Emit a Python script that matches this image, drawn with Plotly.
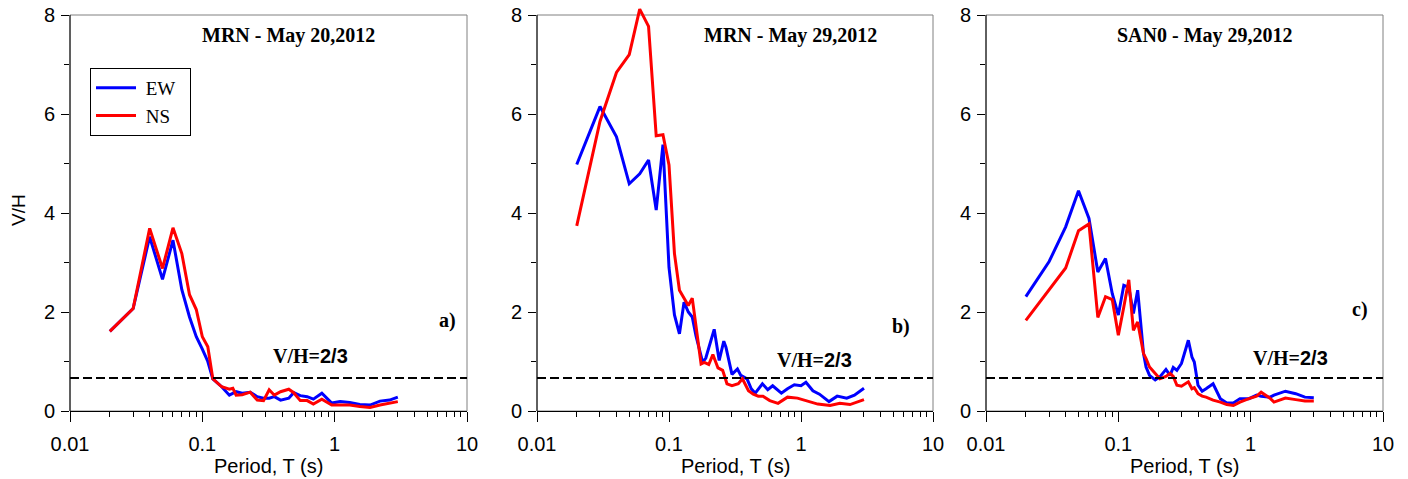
import plotly.graph_objects as go

# ---------------- data ----------------
VH_LIMIT = 2 / 3

T_a_ew = [0.02, 0.03, 0.04, 0.05, 0.06, 0.07, 0.08, 0.09, 0.10, 0.11, 0.12, 0.14, 0.16, 0.18, 0.20, 0.23,
          0.26, 0.29, 0.32, 0.35, 0.39, 0.45, 0.49, 0.55, 0.62, 0.69, 0.80, 0.95, 1.10, 1.30, 1.55, 1.85,
          2.20, 2.60, 3.00]
VH_a_ew = [1.61, 2.07, 3.52, 2.66, 3.45, 2.45, 1.90, 1.50, 1.25, 1.00, 0.65, 0.49, 0.32, 0.39, 0.36, 0.38,
           0.29, 0.26, 0.26, 0.29, 0.22, 0.26, 0.37, 0.31, 0.29, 0.24, 0.36, 0.16, 0.19, 0.17, 0.13, 0.12,
           0.20, 0.22, 0.28]
T_a_ns = [0.02, 0.03, 0.04, 0.05, 0.06, 0.07, 0.08, 0.09, 0.10, 0.11, 0.12, 0.14, 0.16, 0.17, 0.18, 0.20,
          0.23, 0.26, 0.29, 0.32, 0.35, 0.39, 0.45, 0.49, 0.55, 0.62, 0.69, 0.80, 0.95, 1.10, 1.30, 1.55,
          1.85, 2.20, 2.60, 3.00]
VH_a_ns = [1.61, 2.07, 3.69, 2.88, 3.70, 3.18, 2.35, 2.05, 1.50, 1.30, 0.65, 0.49, 0.44, 0.46, 0.32, 0.33,
           0.38, 0.22, 0.21, 0.43, 0.32, 0.39, 0.44, 0.37, 0.21, 0.21, 0.14, 0.24, 0.12, 0.12, 0.12, 0.09,
           0.07, 0.12, 0.155, 0.19]

T_b_ew = [0.02, 0.03, 0.04, 0.05, 0.06, 0.07, 0.08, 0.09, 0.10, 0.11, 0.12, 0.13, 0.14, 0.15, 0.16, 0.17,
          0.18, 0.19, 0.22, 0.24, 0.26, 0.27, 0.30, 0.33, 0.35, 0.39, 0.42, 0.45, 0.51, 0.56, 0.61, 0.71,
          0.79, 0.89, 1.00, 1.09, 1.23, 1.38, 1.63, 1.88, 2.22, 2.54, 3.00]
VH_b_ew = [4.98, 6.15, 5.54, 4.59, 4.79, 5.07, 4.06, 5.38, 2.90, 1.94, 1.56, 2.20, 2.00, 1.90, 1.52, 1.22,
           0.98, 1.07, 1.65, 1.02, 1.41, 1.29, 0.74, 0.85, 0.72, 0.65, 0.45, 0.36, 0.55, 0.43, 0.51, 0.36,
           0.45, 0.53, 0.51, 0.58, 0.41, 0.34, 0.19, 0.30, 0.26, 0.32, 0.46]
T_b_ns = [0.02, 0.03, 0.04, 0.05, 0.06, 0.07, 0.08, 0.09, 0.10, 0.11, 0.12, 0.14, 0.15, 0.16, 0.175, 0.185,
          0.20, 0.215, 0.235, 0.255, 0.275, 0.30, 0.335, 0.36, 0.40, 0.435, 0.475, 0.515, 0.58, 0.67, 0.79,
          0.94, 1.12, 1.34, 1.66, 1.97, 2.35, 3.00]
VH_b_ns = [3.74, 5.85, 6.84, 7.20, 8.12, 7.77, 5.56, 5.58, 4.97, 3.18, 2.44, 2.13, 2.28, 1.69, 0.95, 0.98,
           0.94, 1.14, 0.87, 0.82, 0.55, 0.51, 0.55, 0.65, 0.41, 0.34, 0.30, 0.30, 0.21, 0.155, 0.28,
           0.26, 0.20, 0.14, 0.11, 0.155, 0.13, 0.23]

T_c = [0.02, 0.03, 0.04, 0.05, 0.06, 0.07, 0.08, 0.09, 0.10, 0.11, 0.12, 0.13, 0.14, 0.155, 0.162, 0.172,
       0.19, 0.206, 0.229, 0.246, 0.26, 0.277, 0.30, 0.32, 0.338, 0.36, 0.375, 0.40, 0.43, 0.46, 0.52,
       0.59, 0.66, 0.74, 0.83, 0.97, 1.11, 1.20, 1.40, 1.50, 1.83, 2.19, 2.57, 3.00]
VH_c_ew = [2.31, 3.02, 3.72, 4.45, 3.89, 2.81, 3.08, 2.37, 1.94, 2.54, 2.50, 1.97, 2.44, 1.16, 0.89, 0.72,
           0.63, 0.69, 0.84, 0.72, 0.88, 0.82, 0.96, 1.23, 1.43, 1.09, 0.99, 0.52, 0.40, 0.45, 0.55,
           0.25, 0.16, 0.16, 0.25, 0.25, 0.32, 0.30, 0.28, 0.32, 0.40, 0.35, 0.28, 0.27]
VH_c_ns = [1.83, 2.44, 2.89, 3.64, 3.78, 1.89, 2.31, 2.25, 1.53, 2.10, 2.65, 1.63, 1.80, 1.16, 1.06, 0.89,
           0.76, 0.65, 0.70, 0.76, 0.70, 0.52, 0.50, 0.55, 0.59, 0.45, 0.47, 0.35, 0.30, 0.28, 0.22,
           0.18, 0.13, 0.11, 0.18, 0.25, 0.30, 0.38, 0.26, 0.18, 0.26, 0.23, 0.20, 0.20]

series_names = ["EW", "NS"]
panel_titles = ["MRN - May 20,2012", "MRN - May 29,2012", "SAN0 - May 29,2012"]
panel_tags = ["a)", "b)", "c)"]
x_tick_vals = [0.01, 0.1, 1, 10]
x_tick_text = ["0.01", "0.1", "1", "10"]
y_tick_vals = [0, 2, 4, 6, 8]

# ---------------- layout geometry ----------------
W, H = 1408, 479
x_domains = [[70 / W, 467 / W], [537 / W, 933 / W], [986 / W, 1383 / W]]
MT, MB = 3, 68
plot_h = H - MT - MB
y_top = plot_h / (396 / 8)  # keeps 8 at the frame top while leaving headroom

BLUE = "#0000FF"
RED = "#FF0000"
SERIF = "Liberation Serif, Times New Roman, serif"
SANS = "Liberation Sans, Arial, sans-serif"
NB = "\u00a0"

series = [
    (T_a_ew, VH_a_ew, T_a_ns, VH_a_ns),
    (T_b_ew, VH_b_ew, T_b_ns, VH_b_ns),
    (T_c, VH_c_ew, T_c, VH_c_ns),
]

fig = go.Figure()
minor_x = [m * 10 ** e for e in (-2, -1, 0) for m in range(2, 10)]

title_pos = [(0.551, 0.92), (0.639, 0.92), (0.552, 0.92)]
tag_pos = [(0.95, 0.223), (0.919, 0.208), (0.942, 0.248)]
vh_pos = [(0.606, 0.134), (0.701, 0.125), (0.766, 0.130)]

shapes = []
annotations = []
for i, (tx1, v1, tx2, v2) in enumerate(series):
    n = "" if i == 0 else str(i + 1)
    xa, ya = "x" + n, "y" + n
    fig.add_trace(go.Scatter(x=tx1, y=v1, mode="lines", name=NB + series_names[0] + NB * 2,
                             line=dict(color=BLUE, width=3),
                             xaxis=xa, yaxis=ya, showlegend=(i == 0), legendrank=1))
    fig.add_trace(go.Scatter(x=tx2, y=v2, mode="lines", name=NB + series_names[1] + NB * 2,
                             line=dict(color=RED, width=3),
                             xaxis=xa, yaxis=ya, showlegend=(i == 0), legendrank=2))
    fig.layout["xaxis" + n] = dict(
        type="log", range=[-2, 1], domain=x_domains[i], anchor=ya, automargin=False,
        tickvals=x_tick_vals, ticktext=x_tick_text, ticks="outside", ticklen=10, tickwidth=1,
        tickcolor="black", showline=True, linecolor="black", linewidth=1, showgrid=False,
        zeroline=False, tickfont=dict(family=SANS, size=20, color="black"), ticklabelstandoff=5,
        minor=dict(tickvals=minor_x, ticks="outside", ticklen=5, tickwidth=1, tickcolor="black",
                   showgrid=False),
    )
    fig.layout["yaxis" + n] = dict(
        range=[0, y_top], domain=[0, 1], anchor=xa, automargin=False, tickvals=y_tick_vals,
        ticks="outside", ticklen=8, tickwidth=1, tickcolor="black", showline=False, showgrid=False,
        zeroline=False, tickfont=dict(family=SANS, size=20, color="black"), ticklabelstandoff=2,
        minor=dict(tickvals=[1, 3, 5, 7], ticks="outside", ticklen=5, tickwidth=1, tickcolor="black",
                   showgrid=False),
    )
    xd = "x" + n + " domain"
    # grey frame
    shapes.append(dict(type="rect", xref=xd, yref=ya, x0=0, x1=1, y0=0, y1=8,
                       line=dict(color="#808080", width=1), layer="below"))
    # black left axis line
    shapes.append(dict(type="line", xref=xd, yref=ya, x0=0, x1=0, y0=0, y1=8,
                       line=dict(color="black", width=1)))
    # V/H = 2/3 dashed reference
    shapes.append(dict(type="line", xref=xd, yref=ya, x0=0, x1=1, y0=VH_LIMIT, y1=VH_LIMIT,
                       line=dict(color="black", width=2, dash="9px,4px")))
    yd = "y" + n + " domain"
    annotations.append(dict(text="<b>" + panel_titles[i] + "</b>", xref=xd, yref=yd,
                            x=title_pos[i][0], y=title_pos[i][1], showarrow=False,
                            xanchor="center", yanchor="middle",
                            font=dict(family=SERIF, size=20, color="black")))
    annotations.append(dict(text="<b>" + panel_tags[i] + "</b>", xref=xd, yref=yd,
                            x=tag_pos[i][0], y=tag_pos[i][1], showarrow=False,
                            xanchor="center", yanchor="middle",
                            font=dict(family=SERIF, size=20, color="black")))
    annotations.append(dict(text="<b>V/H=<span style='font-family:Liberation Sans, Arial'>2/3</span></b>",
                            xref=xd, yref=yd, x=vh_pos[i][0], y=vh_pos[i][1], showarrow=False,
                            xanchor="center", yanchor="middle",
                            font=dict(family=SERIF, size=20, color="black")))
    annotations.append(dict(text="Period, T (s)", xref=xd, yref="paper", x=0.5,
                            y=(H - 466 - MB) / plot_h, xanchor="center", yanchor="middle",
                            showarrow=False, font=dict(family=SANS, size=20, color="black")))

annotations.append(dict(text="V/H", xref="paper", yref="paper", x=18 / W, y=(H - 210 - MB) / plot_h,
                        textangle=-90, showarrow=False, xanchor="center", yanchor="middle",
                        font=dict(family=SANS, size=19, color="black")))

fig.update_layout(
    width=W, height=H, margin=dict(l=0, r=0, t=MT, b=MB, autoexpand=False),
    paper_bgcolor="white", plot_bgcolor="white",
    shapes=shapes, annotations=annotations,
    legend=dict(x=90 / W, y=(H - 68 - MB) / plot_h, xanchor="left", yanchor="top",
                bordercolor="black", borderwidth=1, bgcolor="white", itemwidth=40,
                font=dict(family=SERIF, size=19, color="black"), traceorder="normal"),
)

fig.write_html("out.html")
